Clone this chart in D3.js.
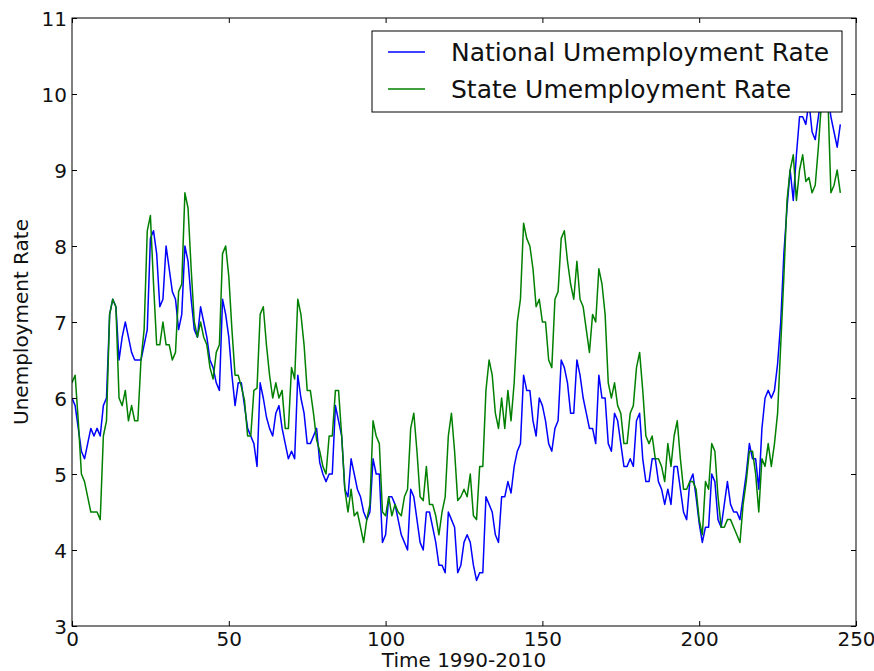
<!doctype html>
<html>
<head>
<meta charset="utf-8">
<script src="https://d3js.org/d3.v7.min.js"></script>
<style>
  body { margin: 0; background: #fff; }
  svg { font-family: "DejaVu Sans", sans-serif; }
  .tick text { font-family: "DejaVu Sans", sans-serif; font-size: 20px; fill: #111; }
  .tick line { stroke: #000; }
  .axis-label { font-size: 20px; fill: #111; }
  .legend text { font-size: 25px; fill: #111; }
</style>
</head>
<body>
<svg id="chart" width="874" height="671"></svg>
<script>
// monthly series, index 0..245
var national = [
  6.0, 5.9, 5.6, 5.3, 5.2, 5.4, 5.6, 5.5, 5.6, 5.5,
  5.9, 6.0, 7.1, 7.3, 7.2, 6.5, 6.8, 7.0, 6.8, 6.6,
  6.5, 6.5, 6.5, 6.7, 6.9, 8.1, 8.2, 7.9, 7.2, 7.3,
  8.0, 7.7, 7.4, 7.3, 6.9, 7.1, 8.0, 7.8, 7.3, 6.9,
  6.8, 7.2, 7.0, 6.8, 6.5, 6.4, 6.2, 6.1, 7.3, 7.1,
  6.8, 6.3, 5.9, 6.2, 6.2, 5.9, 5.6, 5.5, 5.4, 5.1,
  6.2, 6.0, 5.75, 5.6, 5.5, 5.8, 5.9, 5.6, 5.4, 5.2,
  5.3, 5.2, 6.3, 6.0, 5.8, 5.4, 5.4, 5.5, 5.6, 5.15,
  5.0, 4.9, 5.0, 5.0, 5.9, 5.7, 5.5, 4.8, 4.7, 5.2,
  5.0, 4.8, 4.7, 4.5, 4.4, 4.5, 5.2, 5.0, 5.0, 4.1,
  4.2, 4.7, 4.7, 4.6, 4.4, 4.2, 4.1, 4.0, 4.8, 4.7,
  4.4, 4.1, 4.0, 4.5, 4.5, 4.3, 4.1, 3.8, 3.8, 3.7,
  4.5, 4.4, 4.3, 3.7, 3.8, 4.1, 4.2, 4.1, 3.8, 3.6,
  3.7, 3.7, 4.7, 4.6, 4.5, 4.2, 4.1, 4.7, 4.7, 4.9,
  4.75, 5.1, 5.3, 5.4, 6.3, 6.1, 6.1, 5.7, 5.5, 6.0,
  5.9, 5.7, 5.4, 5.3, 5.6, 5.7, 6.5, 6.4, 6.2, 5.8,
  5.8, 6.5, 6.3, 6.0, 5.8, 5.6, 5.6, 5.4, 6.3, 6.0,
  6.0, 5.4, 5.3, 5.8, 5.7, 5.4, 5.1, 5.1, 5.2, 5.1,
  5.7, 5.8, 5.2, 4.9, 4.9, 5.2, 5.2, 4.9, 4.8, 4.6,
  4.8, 4.6, 5.1, 5.1, 4.8, 4.5, 4.4, 4.9, 5.0, 4.7,
  4.35, 4.1, 4.3, 4.3, 5.0, 4.9, 4.4, 4.3, 4.6, 4.9,
  4.6, 4.5, 4.5, 4.4, 4.7, 5.0, 5.4, 5.2, 5.2, 4.8,
  5.6, 6.0, 6.1, 6.0, 6.1, 6.45, 7.0, 7.9, 8.5, 9.0,
  8.6, 9.2, 9.7, 9.7, 9.6, 9.9, 9.5, 9.4, 9.7, 10.0,
  10.2, 10.0, 9.7, 9.5, 9.3, 9.6
];
var state = [
  6.2, 6.3, 5.7, 5.0, 4.9, 4.7, 4.5, 4.5, 4.5, 4.4,
  5.5, 5.7, 7.1, 7.3, 7.2, 6.0, 5.9, 6.1, 5.7, 5.9,
  5.7, 5.7, 6.5, 6.9, 8.2, 8.4, 7.5, 6.7, 6.7, 7.0,
  6.7, 6.7, 6.5, 6.6, 7.4, 7.5, 8.7, 8.5, 7.7, 7.0,
  6.8, 7.0, 6.8, 6.7, 6.4, 6.25, 6.6, 6.7, 7.9, 8.0,
  7.6, 6.9, 6.3, 6.3, 6.15, 5.97, 5.5, 5.5, 6.1, 6.13,
  7.1, 7.2, 6.7, 6.3, 6.0, 6.2, 6.0, 6.1, 5.6, 5.6,
  6.4, 6.25, 7.3, 7.1, 6.7, 6.1, 6.1, 5.8, 5.45, 5.3,
  5.1, 5.0, 5.5, 5.5, 6.1, 6.1, 5.5, 4.8, 4.5, 4.8,
  4.45, 4.5, 4.3, 4.1, 4.4, 4.6, 5.7, 5.5, 5.4, 4.5,
  4.45, 4.7, 4.45, 4.6, 4.5, 4.45, 4.7, 4.8, 5.6, 5.8,
  5.3, 4.7, 4.65, 5.1, 4.6, 4.6, 4.45, 4.2, 4.5, 4.7,
  5.5, 5.8, 5.3, 4.65, 4.7, 4.8, 4.7, 5.0, 4.45, 4.4,
  5.1, 5.1, 6.1, 6.5, 6.3, 5.8, 5.6, 6.0, 5.6, 6.1,
  5.7, 6.2, 7.0, 7.3, 8.3, 8.1, 8.0, 7.7, 7.2, 7.3,
  7.0, 7.0, 6.5, 6.4, 7.3, 7.4, 8.1, 8.2, 7.8, 7.5,
  7.3, 7.8, 7.3, 7.2, 6.9, 6.6, 7.1, 7.0, 7.7, 7.5,
  7.1, 6.2, 6.0, 6.2, 5.9, 5.8, 5.4, 5.4, 5.8, 5.9,
  6.4, 6.6, 6.1, 5.5, 5.4, 5.5, 5.2, 5.2, 5.1, 4.9,
  5.4, 5.1, 5.5, 5.7, 5.2, 4.8, 4.8, 4.9, 4.9, 4.8,
  4.4, 4.2, 4.9, 4.8, 5.4, 5.3, 4.7, 4.3, 4.3, 4.4,
  4.4, 4.3, 4.2, 4.1, 4.6, 4.9, 5.3, 5.3, 5.0, 4.5,
  5.2, 5.1, 5.4, 5.1, 5.4, 5.8, 6.7, 7.6, 8.6, 9.0,
  9.2, 8.6, 9.0, 9.2, 8.85, 8.9, 8.7, 8.8, 9.3, 9.9,
  10.2, 10.0, 8.7, 8.8, 9.0, 8.7
];
var seriesNames = ["National Umemployment Rate", "State Umemployment Rate"];
var seriesColors = ["#0000ff", "#008000"];
var xTicks = [0, 50, 100, 150, 200, 250];
var yTicks = [3, 4, 5, 6, 7, 8, 9, 10, 11];

(function() {
  var svg = d3.select("#chart");
  var pLeft = 72, pTop = 18, pRight = 856, pBottom = 626;

  var x = d3.scaleLinear().domain([0, 250]).range([pLeft, pRight]);
  var y = d3.scaleLinear().domain([3, 11]).range([pBottom, pTop]);

  var line = d3.line()
    .x(function(d, i) { return x(i); })
    .y(function(d) { return y(d); });

  svg.append("defs").append("clipPath").attr("id", "plotclip")
    .append("rect")
    .attr("x", pLeft).attr("y", pTop)
    .attr("width", pRight - pLeft).attr("height", pBottom - pTop);

  var plot = svg.append("g").attr("clip-path", "url(#plotclip)");
  [national, state].forEach(function(s, k) {
    plot.append("path")
      .datum(s)
      .attr("fill", "none")
      .attr("stroke", seriesColors[k])
      .attr("stroke-width", 1.5)
      .attr("stroke-linejoin", "round")
      .attr("d", line);
  });

  // axes, ticks pointing inward like classic matplotlib
  svg.append("g")
    .attr("transform", "translate(0," + pBottom + ")")
    .call(d3.axisBottom(x).tickValues(xTicks).tickSizeInner(-5).tickSizeOuter(0))
    .call(function(g) { g.select(".domain").remove(); })
    .selectAll("text").attr("y", 20).attr("dy", 0);

  svg.append("g")
    .attr("transform", "translate(0," + pTop + ")")
    .call(d3.axisTop(x).tickValues(xTicks).tickSizeInner(-5).tickSizeOuter(0).tickFormat(""))
    .call(function(g) { g.select(".domain").remove(); });

  svg.append("g")
    .attr("transform", "translate(" + pLeft + ",0)")
    .call(d3.axisLeft(y).tickValues(yTicks).tickSizeInner(-5).tickSizeOuter(0))
    .call(function(g) { g.select(".domain").remove(); })
    .selectAll("text").attr("x", -5).attr("dy", "0.36em");

  svg.append("g")
    .attr("transform", "translate(" + pRight + ",0)")
    .call(d3.axisRight(y).tickValues(yTicks).tickSizeInner(-5).tickSizeOuter(0).tickFormat(""))
    .call(function(g) { g.select(".domain").remove(); });

  svg.append("rect")
    .attr("x", pLeft).attr("y", pTop)
    .attr("width", pRight - pLeft).attr("height", pBottom - pTop)
    .attr("fill", "none").attr("stroke", "#000").attr("stroke-width", 1);

  svg.append("text")
    .attr("class", "axis-label")
    .attr("x", (pLeft + pRight) / 2).attr("y", 667)
    .attr("text-anchor", "middle")
    .text("Time 1990-2010");

  svg.append("text")
    .attr("class", "axis-label")
    .attr("transform", "translate(28," + ((pTop + pBottom) / 2) + ") rotate(-90)")
    .attr("text-anchor", "middle")
    .text("Unemployment Rate");

  // legend
  var legend = svg.append("g").attr("class", "legend");
  legend.append("rect")
    .attr("x", 372).attr("y", 31)
    .attr("width", 470).attr("height", 81)
    .attr("fill", "#fff").attr("stroke", "#000").attr("stroke-width", 1);

  seriesNames.forEach(function(name, k) {
    var yy = 52 + k * 37;
    legend.append("line")
      .attr("x1", 388).attr("x2", 425)
      .attr("y1", yy).attr("y2", yy)
      .attr("stroke", seriesColors[k]).attr("stroke-width", 1.5);
    legend.append("text")
      .attr("x", 451).attr("y", yy + 9)
      .text(name);
  });
})();
</script>
</body>
</html>
